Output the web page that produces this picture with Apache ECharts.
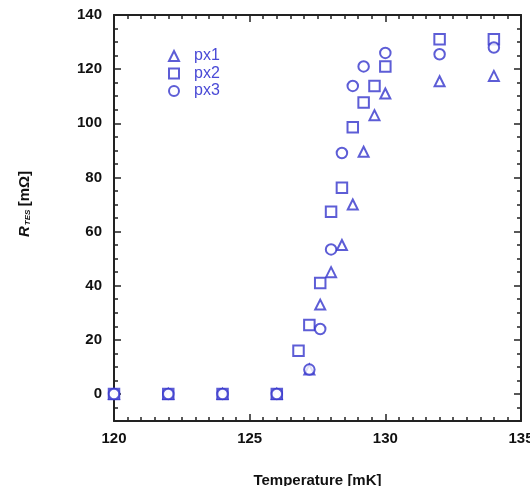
<!DOCTYPE html>
<html>
<head>
<meta charset="utf-8">
<script src="https://cdn.jsdelivr.net/npm/echarts@6/dist/echarts.min.js"></script>
<style>html,body{margin:0;padding:0;background:#fff}#c{width:530px;height:486px}</style>
</head>
<body>
<div id="c"></div>
<script>
// Temperature (mK)
const tempPx1 = [120, 122, 124, 126, 127.2, 127.6, 128.0, 128.4, 128.8, 129.2, 129.6, 130.0, 132, 134];
const rPx1    = [0, 0, 0, 0, 9, 33, 45, 55, 70, 89.5, 103, 111, 115.5, 117.5];
const tempPx2 = [120, 122, 124, 126, 126.8, 127.2, 127.6, 128.0, 128.4, 128.8, 129.2, 129.6, 130.0, 132, 134];
const rPx2    = [0, 0, 0, 0, 16, 25.5, 41, 67.3, 76.2, 98.5, 107.7, 113.8, 121, 131, 131];
const tempPx3 = [120, 122, 124, 126, 127.2, 127.6, 128.0, 128.4, 128.8, 129.2, 130.0, 132, 134];
const rPx3    = [0, 0, 0, 0, 9, 24, 53.4, 89, 113.8, 121, 126, 125.5, 128];
const yMajorTicks = [0, 20, 40, 60, 80, 100, 120, 140];
const seriesNames = ['px1', 'px2', 'px3'];

const blue = '#3434cc';
const axisColor = '#222';
const font = 'Liberation Sans, Arial, sans-serif';

function pairs(xs, ys) { return xs.map((x, i) => [x, ys[i]]); }

const chart = echarts.init(document.getElementById('c'));
const xBase = {
  type: 'value', min: 120, max: 135, interval: 5,
  axisLine: { show: true, onZero: false, lineStyle: { color: axisColor, width: 2 } },
  axisTick: { inside: true, length: 7, lineStyle: { color: axisColor, width: 1.5 } },
  minorTick: { show: true, splitNumber: 10, length: 4, lineStyle: { color: axisColor, width: 1.5 } },
  splitLine: { show: false }, minorSplitLine: { show: false }
};
const yMajor = {
  type: 'value', min: -10, max: 140,
  axisLine: { show: true, onZero: false, lineStyle: { color: axisColor, width: 2 } },
  axisTick: { inside: true, length: 7, customValues: yMajorTicks, lineStyle: { color: axisColor, width: 1.5 } },
  splitLine: { show: false }
};
const yMinor = {
  type: 'value', min: -10, max: 140, interval: 5,
  axisLine: { show: false },
  axisTick: { inside: true, length: 4, lineStyle: { color: axisColor, width: 1.5 } },
  axisLabel: { show: false },
  splitLine: { show: false }
};

chart.setOption({
  animation: false,
  backgroundColor: '#fff',
  grid: { left: 114, right: 9, top: 15, bottom: 65, containLabel: false, outerBoundsMode: 'none' },
  legend: {
    orient: 'vertical', left: 163, top: 43, itemGap: 1.5,
    itemWidth: 10, itemHeight: 10,
    data: seriesNames,
    textStyle: { color: '#4a4ad6', fontFamily: font, fontSize: 16, padding: [0, 0, 0, 10] }
  },
  xAxis: [
    Object.assign({}, xBase, {
      position: 'bottom',
      name: 'Temperature [mK]', nameLocation: 'middle', nameGap: 52,
      nameTextStyle: { fontFamily: font, fontSize: 15, fontWeight: 'bold', color: '#111' },
      axisLabel: { show: true, margin: 10, fontFamily: font, fontSize: 15, fontWeight: 'bold', color: '#111' }
    }),
    Object.assign({}, xBase, { position: 'top', axisLabel: { show: false } })
  ],
  yAxis: [
    Object.assign({}, yMajor, {
      position: 'left',
      name: '{r|R}{s|TES} {n|[mΩ]}', nameLocation: 'middle', nameGap: 82, nameRotate: 90,
      nameTextStyle: {
        padding: [0, 0, 0, 28],
        rich: {
          r: { fontFamily: font, fontSize: 15, fontStyle: 'italic', fontWeight: 'bold', color: '#111', lineHeight: 15, verticalAlign: 'top' },
          s: { fontFamily: font, fontSize: 8, fontStyle: 'italic', fontWeight: 'bold', color: '#111', lineHeight: 8, padding: [9, 0, 0, 1], verticalAlign: 'bottom' },
          n: { fontFamily: font, fontSize: 15, fontWeight: 'bold', color: '#111', lineHeight: 15, verticalAlign: 'top' }
        }
      },
      axisLabel: { show: true, margin: 12, customValues: yMajorTicks, fontFamily: font, fontSize: 15, fontWeight: 'bold', color: '#111' }
    }),
    Object.assign({}, yMajor, { position: 'right', axisLabel: { show: false } }),
    Object.assign({}, yMinor, { position: 'left' }),
    Object.assign({}, yMinor, { position: 'right' })
  ],
  series: [
    { name: seriesNames[0], type: 'scatter', symbol: 'emptyTriangle', symbolSize: 10,
      itemStyle: { color: blue, borderWidth: 1.7 }, data: pairs(tempPx1, rPx1) },
    { name: seriesNames[1], type: 'scatter', symbol: 'emptyRect', symbolSize: 10.5,
      itemStyle: { color: blue, borderWidth: 1.7 }, data: pairs(tempPx2, rPx2) },
    { name: seriesNames[2], type: 'scatter', symbol: 'emptyCircle', symbolSize: 10.5,
      itemStyle: { color: blue, borderWidth: 1.7 }, data: pairs(tempPx3, rPx3) }
  ]
});
</script>
</body>
</html>
